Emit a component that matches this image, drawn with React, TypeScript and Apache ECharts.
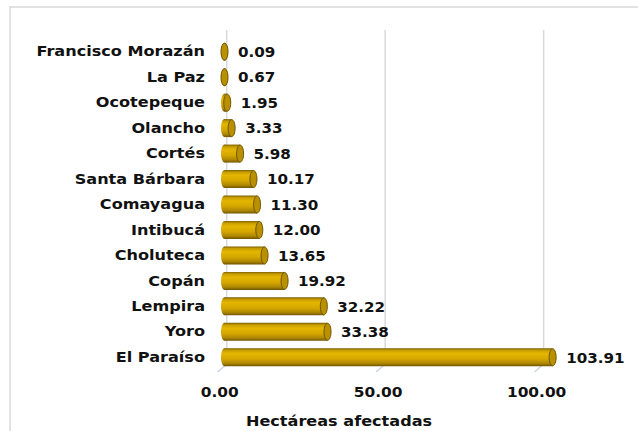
import React, { useEffect, useRef } from "react";
import * as echarts from "echarts";

const categories = [
  "Francisco Morazán",
  "La Paz",
  "Ocotepeque",
  "Olancho",
  "Cortés",
  "Santa Bárbara",
  "Comayagua",
  "Intibucá",
  "Choluteca",
  "Copán",
  "Lempira",
  "Yoro",
  "El Paraíso",
];
const hectares = [0.09, 0.67, 1.95, 3.33, 5.98, 10.17, 11.3, 12.0, 13.65, 19.92, 32.22, 33.38, 103.91];
const axisTicks = [0, 50, 100];
const axisTitle = "Hectáreas afectadas";

const FONT = "DejaVu Sans";
const TEXT_COLOR = "#111111";
const STRETCH = 1.15;

export default function App() {
  const ref = useRef<HTMLDivElement>(null);
  useEffect(() => {
    if (!ref.current) return;
    const chart = echarts.init(ref.current, undefined, { renderer: "svg" });
    const bodyGrad = () =>
      new echarts.graphic.LinearGradient(0, 0, 0, 1, [
        { offset: 0, color: "#7a5e00" },
        { offset: 0.12, color: "#c99f00" },
        { offset: 0.3, color: "#e4b600" },
        { offset: 0.6, color: "#d4a600" },
        { offset: 0.85, color: "#ab8500" },
        { offset: 1, color: "#6e5300" },
      ]);
    const textStyle = (text: string, align: string) => ({
      text,
      x: 0,
      y: 0,
      align,
      verticalAlign: "middle",
      fontFamily: FONT,
      fontWeight: "bold",
      fontSize: 14,
      fill: TEXT_COLOR,
    });
    const option: any = {
      animation: false,
      backgroundColor: "#ffffff",
      graphic: [
        {
          type: "rect",
          z: -10,
          shape: { x: 10, y: 7, width: 800, height: 600 },
          style: { fill: "none", stroke: "#d9d9d9", lineWidth: 1.5 },
        },
        {
          type: "text",
          x: 339,
          y: 421,
          scaleX: STRETCH,
          style: textStyle(axisTitle, "center"),
        },
      ],
      grid: [
        { left: 221, right: 34, top: 39, bottom: 61 },
        { left: 226.7, right: 31, top: 30, bottom: 67 },
      ],
      xAxis: [
        {
          type: "value",
          gridIndex: 0,
          min: 0,
          max: 120,
          show: false,
        },
        {
          type: "value",
          gridIndex: 1,
          min: 0,
          max: 120,
          show: false,
        },
      ],
      yAxis: [
        {
          type: "category",
          gridIndex: 0,
          data: categories,
          inverse: true,
          show: false,
        },
        { type: "value", gridIndex: 1, min: 0, max: 1, show: false },
      ],
      series: [
        {
          type: "custom",
          xAxisIndex: 1,
          yAxisIndex: 1,
          z: 1,
          data: axisTicks.map((t) => [t, 0]),
          renderItem: (params: any, api: any) => {
            const t = api.value(0);
            const p = api.coord([t, 0]);
            const q = api.coord([t, 1]);
            return {
              type: "group",
              children: [
                {
                  type: "line",
                  shape: { x1: q[0], y1: q[1], x2: p[0], y2: p[1] },
                  style: { stroke: "#d9d9d9", lineWidth: 1.5 },
                },
                {
                  type: "line",
                  shape: { x1: p[0], y1: p[1], x2: p[0] - 9, y2: p[1] + 8 },
                  style: { stroke: "#cdd3e2", lineWidth: 1.5 },
                },
                {
                  type: "text",
                  x: p[0] - 7,
                  y: p[1] + 28,
                  scaleX: 1.1,
                  style: textStyle(t.toFixed(2), "center"),
                },
              ],
            };
          },
        },
        {
          type: "custom",
          xAxisIndex: 0,
          yAxisIndex: 0,
          z: 5,
          encode: { x: 0, y: 1 },
          data: hectares.map((v, i) => [v, i]),
          renderItem: (params: any, api: any) => {
            const v = api.value(0);
            const idx = api.value(1);
            const s = api.coord([0, idx]);
            const e = api.coord([v, idx]);
            const h = 18;
            const rx = 3.5;
            const cy = s[1];
            const left = s[0];
            const endX = Math.max(e[0], left + rx);
            return {
              type: "group",
              children: [
                {
                  type: "text",
                  x: left - 16,
                  y: cy,
                  scaleX: STRETCH,
                  style: textStyle(categories[idx], "right"),
                },
                {
                  type: "ellipse",
                  shape: { cx: left + rx, cy, rx, ry: h / 2 },
                  style: { fill: bodyGrad() },
                },
                {
                  type: "rect",
                  shape: { x: left + rx, y: cy - h / 2, width: endX - left - rx, height: h },
                  style: { fill: bodyGrad() },
                },
                {
                  type: "ellipse",
                  shape: { cx: endX, cy, rx, ry: h / 2 - 0.5 },
                  style: { fill: "#b99000", stroke: "#6e5300", lineWidth: 1 },
                },
                {
                  type: "text",
                  x: endX + rx + 10,
                  y: cy,
                  scaleX: 1.08,
                  style: textStyle(v.toFixed(2), "left"),
                },
              ],
            };
          },
        },
      ],
    };
    chart.setOption(option);
    return () => chart.dispose();
  }, []);
  return (
    <div
      ref={ref}
      style={{ position: "absolute", left: 0, top: 0, width: 638, height: 431 }}
    />
  );
}
